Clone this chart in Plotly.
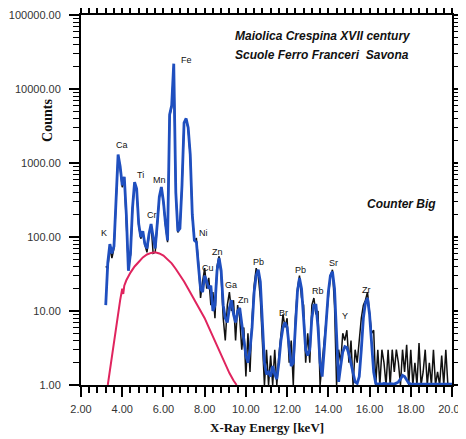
import plotly.graph_objects as go

# Energy channels (keV), 0.1 keV steps from 3.2 to 20.0
energy_kev = [round(3.2 + 0.1 * i, 1) for i in range(169)]

# Smoothed spectrum (blue)
counts_smoothed = [
    12, 45, 80, 60, 75, 300, 1300, 900, 500, 650,
    200, 35, 60, 250, 550, 450, 150, 100, 120, 80,
    70, 110, 150, 100, 70, 150, 350, 475, 300, 150,
    90, 4500, 6000, 22000, 400, 120, 130, 500, 3500, 4000,
    3000, 1300, 200, 90, 85, 40, 20, 18, 30, 25,
    20, 22, 10, 12, 35, 52, 35, 12, 8, 7,
    11, 14, 9, 7, 10, 11, 7, 4, 2.5, 2,
    3, 6, 18, 30, 36, 25, 8, 2, 1.4, 1.5,
    1.3, 1.8, 1.4, 1.2, 2, 4, 6, 7, 6, 3,
    1.8, 2, 6, 18, 28, 20, 8, 3, 2.5, 3,
    8, 12, 12, 6, 2, 1.3, 3, 8, 18, 30,
    34, 20, 5, 1.1, 1.8, 2.8, 3.3, 3.2, 2.6, 1.9,
    1.4, 1.1, 1.05, 1.3, 3, 8, 13, 15, 9, 4,
    1.5, 1.05, 1.03, 1.04, 1.03, 1.05, 1.03, 1.03, 1.04, 1.03,
    1.03, 1.06, 1.1, 1.2, 1.35, 1.3, 1.15, 1.06, 1.03, 1.03,
    1.03, 1.04, 1.03, 1.03, 1.05, 1.03, 1.03, 1.03, 1.04, 1.03,
    1.03, 1.03, 1.04, 1.03, 1.03, 1.03, 1.03, 1.03, 1.03,
]

# Raw spectrum (black)
counts_raw = [
    40, 38, 70, 52, 70, 290, 1250, 870, 470, 620,
    190, 38, 57, 240, 520, 430, 145, 95, 115, 78,
    62, 105, 145, 60, 62, 145, 340, 460, 290, 145,
    85, 4300, 5700, 21000, 390, 115, 135, 490, 3400, 3900,
    2900, 1250, 190, 92, 95, 45, 15, 25, 38, 20,
    28, 12, 18, 8, 40, 55, 30, 8, 4, 12,
    18, 10, 14, 4, 12, 8, 3, 6, 1.3, 5,
    1.5, 8, 22, 38, 30, 15, 3, 1, 3, 1,
    2.5, 1, 3, 1, 2.5, 5, 9, 6, 8, 2,
    4, 1, 8, 20, 30, 15, 12, 2, 5, 2,
    12, 15, 9, 10, 1, 2, 4, 8, 15, 30,
    36, 12, 1, 3, 2, 5, 4, 5.5, 2, 4,
    1, 3, 2, 4, 8, 12, 14, 18, 10, 5,
    5.5, 1, 3, 1, 3, 2, 1, 3, 1, 3,
    1.5, 3, 2, 1, 3, 1.5, 3.5, 1, 3, 1,
    2, 1, 3.7, 1, 1.5, 3, 1, 2, 1, 3,
    1, 1.5, 1, 2.5, 1, 3, 1, 1, 1,
]

# Background continuum (pink)
bg_energy = [3.3, 3.4, 3.5, 3.6, 3.7, 3.8, 3.9, 4.0, 4.05, 4.1, 4.2, 4.4, 4.6, 4.8,
             5.0, 5.2, 5.4, 5.6, 5.8, 6.0, 6.2, 6.4, 6.6, 6.8, 7.0, 7.2, 7.4,
             7.6, 7.8, 8.0, 8.2, 8.4, 8.6, 8.8, 9.0, 9.2, 9.4, 9.55]
bg_counts = [1.0, 1.6, 2.4, 4.0, 6.5, 10, 14, 20, 17, 22, 26, 33, 40, 46,
             53, 58, 61, 62, 60, 56, 50, 44, 37, 31, 25, 20, 16,
             12.5, 10, 8, 6, 4.5, 3.4, 2.5, 1.9, 1.45, 1.15, 1.0]

# Element labels: name, energy (keV), log10(counts) position
label_names = ["Fe", "Ca", "Ti", "Mn", "Cr", "K", "Ni", "Zn", "Cu", "Ga", "Zn",
               "Pb", "Pb", "Br", "Rb", "Sr", "Y", "Zr"]
label_energy = [7.10, 3.99, 4.91, 5.83, 5.45, 3.10, 7.95, 8.62, 8.17, 9.30, 9.86,
                10.59, 12.63, 11.81, 13.50, 14.23, 14.82, 15.83]
label_logy = [4.39, 3.24, 2.84, 2.77, 2.30, 2.05, 2.05, 1.80, 1.58, 1.35, 1.15,
              1.66, 1.55, 0.97, 1.27, 1.65, 0.93, 1.28]

fig = go.Figure()
fig.add_trace(go.Scatter(x=energy_kev, y=counts_raw, mode="lines",
                         line=dict(color="#111111", width=1.5),
                         showlegend=False))
fig.add_trace(go.Scatter(x=energy_kev, y=counts_smoothed, mode="lines",
                         line=dict(color="#1f4fbf", width=2.8),
                         showlegend=False))
fig.add_trace(go.Scatter(x=bg_energy, y=bg_counts, mode="lines",
                         line=dict(color="#e0245e", width=2),
                         showlegend=False))

for name, ex, ly in zip(label_names, label_energy, label_logy):
    fig.add_annotation(x=ex, y=ly, text=name, showarrow=False,
                       font=dict(family="Liberation Sans", size=9, color="#111111"))

fig.add_annotation(xref="paper", yref="paper", x=0.41, y=0.943,
                   xanchor="left", yanchor="middle",
                   text="<b><i>Maiolica Crespina XVII century</i></b>", showarrow=False,
                   font=dict(family="Liberation Sans", size=12, color="#111111"))
fig.add_annotation(xref="paper", yref="paper", x=0.41, y=0.892,
                   xanchor="left", yanchor="middle",
                   text="<b><i>Scuole Ferro Franceri  Savona</i></b>", showarrow=False,
                   font=dict(family="Liberation Sans", size=12, color="#111111"))
fig.add_annotation(xref="paper", yref="paper", x=0.962, y=0.489,
                   xanchor="right", yanchor="middle",
                   text="<b><i>Counter Big</i></b>", showarrow=False,
                   font=dict(family="Liberation Sans", size=12, color="#111111"))
fig.add_annotation(xref="paper", yref="paper", x=-0.092, y=0.716,
                   xanchor="center", yanchor="middle",
                   text="<b>Counts</b>", textangle=-90, showarrow=False,
                   font=dict(family="Liberation Serif", size=14, color="#111111"))
fig.add_annotation(xref="paper", yref="paper", x=0.5, y=-0.114,
                   xanchor="center", yanchor="middle",
                   text="<b>X-Ray Energy [keV]</b>", showarrow=False,
                   font=dict(family="Liberation Serif", size=13, color="#111111"))

axis_common = dict(showgrid=False, zeroline=False, showline=True, linecolor="black",
                   linewidth=2, mirror="ticks", ticks="outside", ticklen=10,
                   tickwidth=1.5, tickcolor="black", automargin=False,
                   tickfont=dict(family="Liberation Sans", size=11, color="#333333"))

fig.update_xaxes(range=[2, 20], dtick=2, tick0=2, tickformat=".2f",
                 ticklabelstandoff=3,
                 minor=dict(dtick=0.4, ticks="outside", ticklen=6, tickwidth=1.5,
                            tickcolor="black"),
                 **axis_common)
fig.update_yaxes(type="log", range=[0, 5], dtick=1, tickformat=".2f",
                 ticklabelstandoff=6,
                 minor=dict(dtick="D1", ticks="outside", ticklen=6, tickwidth=1.2,
                            tickcolor="black"),
                 **axis_common)

fig.update_layout(width=458, height=431, plot_bgcolor="white", paper_bgcolor="white",
                  margin=dict(l=73, r=14, t=7, b=54), showlegend=False)

fig.write_html("out.html")
